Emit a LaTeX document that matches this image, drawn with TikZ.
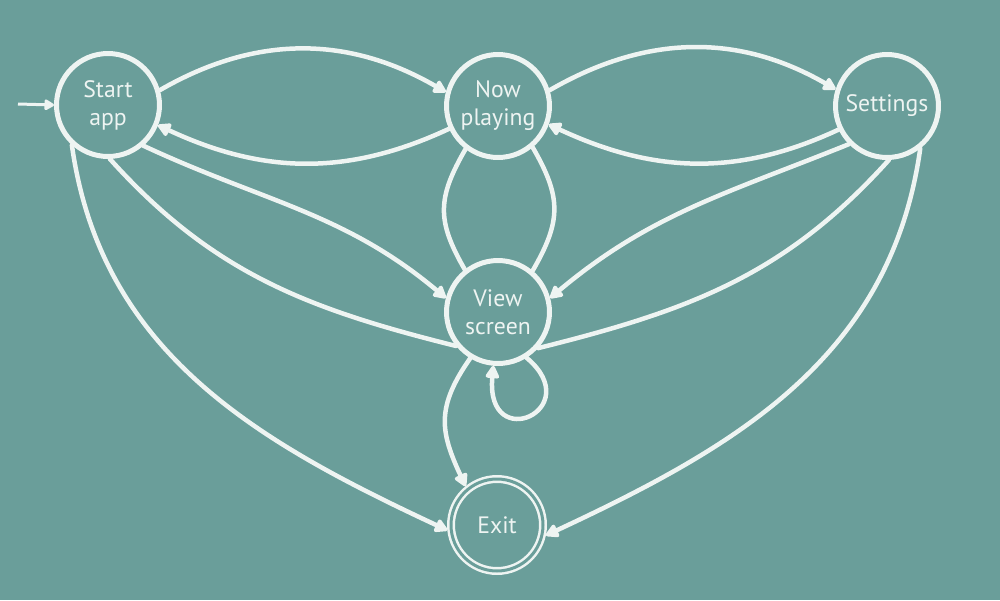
\documentclass[tikz,border=0pt]{standalone}
\usepackage{fontspec}
\setmainfont{PT Sans}
\usetikzlibrary{arrows.meta}
\definecolor{board}{RGB}{106,158,154}
\definecolor{chalk}{RGB}{238,244,242}
\tikzset{
  state/.style={circle, draw=chalk, line width=0.1cm, minimum size=2.06cm, inner sep=0pt,
    text=chalk, align=center, font=\fontsize{13.5}{16}\selectfont},
  final/.style={circle, draw=chalk, line width=0.05cm, double=board, double distance=0.06cm,
    minimum size=1.84cm, outer sep=0.08cm, inner sep=0pt, text=chalk, font=\fontsize{13.5}{16}\selectfont},
  edge/.style={draw=chalk, line width=0.09cm, line cap=round},
  arr/.style={edge, -{Triangle[length=0.29cm,width=0.3cm,round]}},
  initarrow/.style={draw=chalk, line width=0.06cm, -{Triangle[length=0.22cm,width=0.24cm,round]}}
}
\begin{document}
\begin{tikzpicture}[x=0.02cm,y=0.02cm]
\fill[board] (0,0) rectangle (1000,600);
\useasboundingbox (0,0) rectangle (1000,600);

\node[state] (start) at (108,495) {Start\\app};
\node[state] (now) at (498,494) {Now\\playing};
\node[state] (set) at (887,494) {Settings};
\node[state] (view) at (498,288) {View\\screen};
\node[final] (exit) at (497,75) {Exit};
\coordinate (init) at (18,496);

\draw[initarrow] (init) -- (start.west);

% top row
\draw[arr] (start.16) to[out=30,in=150] (now.165);
\draw[arr] (now.205) to[out=205,in=-25] (start.-22);
\draw[arr] (now.17) to[out=30,in=150] (set.162);
\draw[arr] (set.206) to[out=205,in=-25] (now.-20);

% to view screen
\draw[arr] (start.-49) to[out=-25,in=140] (view.165);
\draw[edge] (start.-88) to[out=-48,in=166] (view.219);
\draw[arr] (set.-135) to[out=-158,in=40] (view.15);
\draw[edge] (set.-88) to[out=-132,in=14] (view.-42);

% now playing <-> view
\draw[edge] (now.233) to[out=-120,in=120,looseness=1.2] (view.128);
\draw[edge] (now.-50) to[out=-60,in=60,looseness=1.2] (view.50);

% self loop
\draw[arr] (view.-58) .. controls +(-40:80) and +(-95:90) .. (view.-95);

% to exit
\draw[arr] (view.-121) .. controls +(-125:60) and +(115:60) .. (exit.129);
\draw[arr] (start.-132) to[out=-82,in=155] (exit.186);
\draw[arr] (set.-52) to[out=-98,in=25] (exit.-12);
\end{tikzpicture}
\end{document}
